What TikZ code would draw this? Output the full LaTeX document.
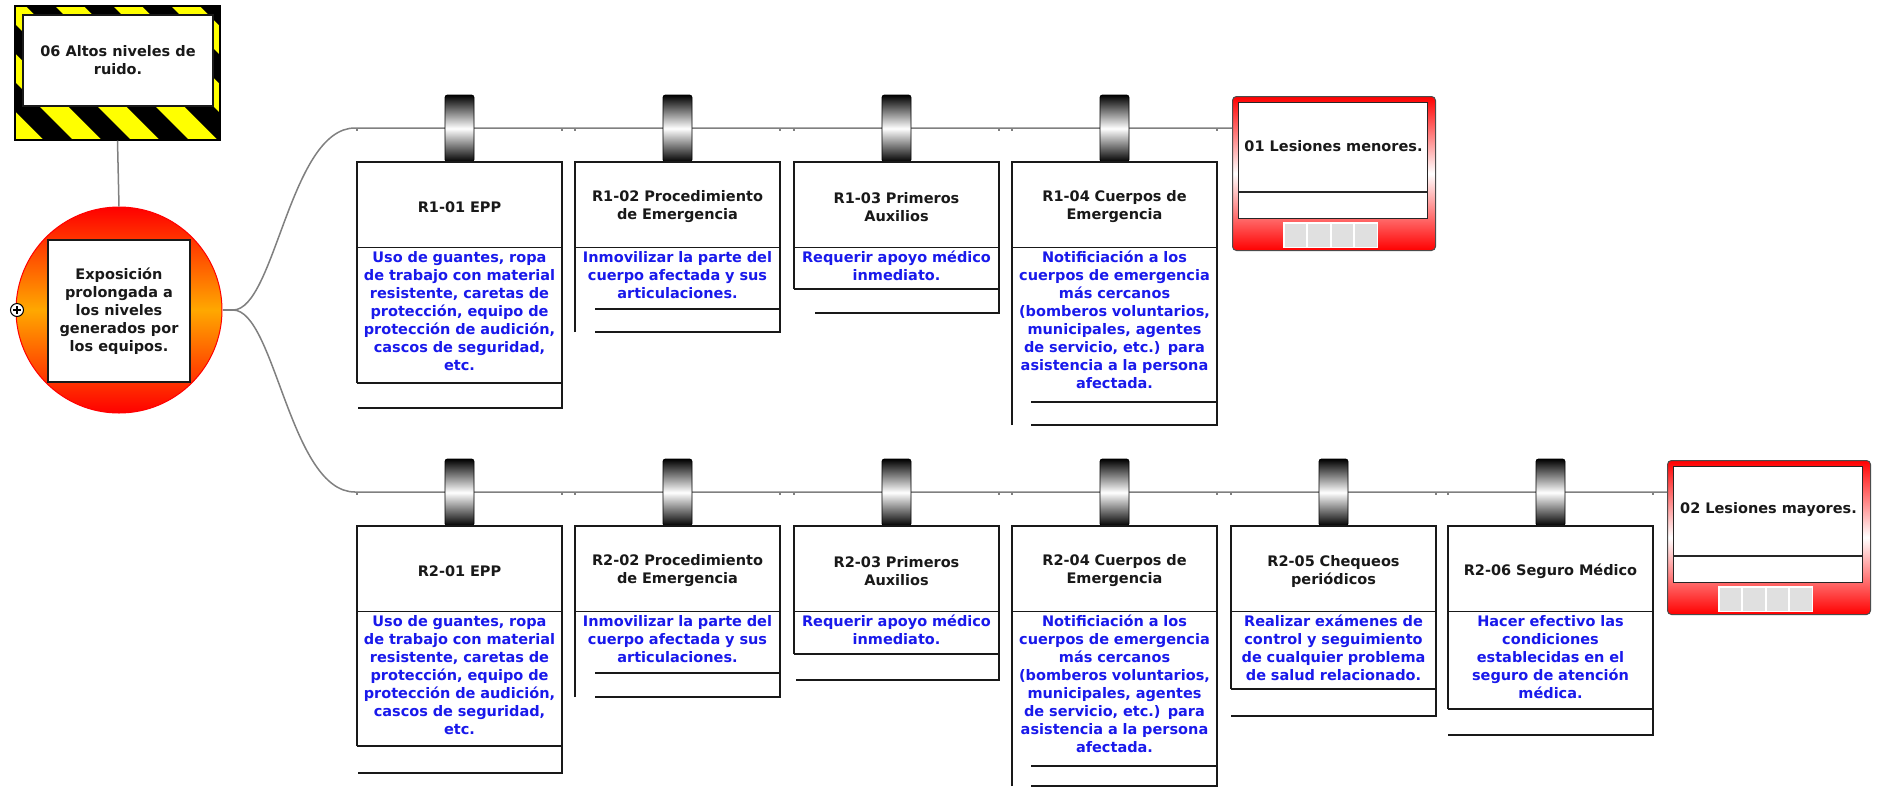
\documentclass[tikz,border=0pt]{standalone}
\usepackage{fontspec}
\setmainfont{DejaVu Sans}
\definecolor{desccol}{RGB}{25,25,235}
\definecolor{evorange}{RGB}{255,168,0}
\definecolor{hazyellow}{RGB}{255,255,0}
\definecolor{chipgray}{RGB}{224,224,224}

% barrier card: name, left x, top y, description bottom, footer bottom,
% footer line offset, left border down to footer (1/0), title, description
\newcommand\barrier[9]{%
  \pgfmathsetmacro\bR{#2+205}%
  \pgfmathsetmacro\bC{#2+102.5}%
  \pgfmathsetmacro\bD{#3+85.5}%
  \pgfmathsetmacro\bL{#3-34}%
  \pgfmathsetmacro\bF{#2+#6}%
  \ifnum#7=1 \def\bB{#5}\let\bS\bF\else\def\bB{#4}\def\bS{#2}\fi
  \draw[link] (#2,\bL) -- ++(0,3) (\bR,\bL) -- ++(0,3);
  \node[hanger] (#1-k) at (\bC,#3-33.5) {};
  \draw[frame] (#2,\bB) -- (#2,#3) -- (\bR,#3) -- (\bR,#5) -- (\bF,#5);
  \draw[frame] (#2,\bD) -- (\bR,\bD);
  \draw[frame] (\bS,#4) -- (\bR,#4);
  \node[hdrtxt] (#1-h) at (\bC,#3+45) {#8};
  \node[desctxt] (#1-d) at (\bC,\bD+1) {\rule{0pt}{14pt}#9};
}

% consequence card: name, left x, top y, text
\newcommand\consq[4]{%
  \node[cbox, anchor=north west] (#1) at (#2,#3) {};
  \node[cinner, anchor=north west] (#1-i) at (#2+6,#3+6) {};
  \draw[black!85, line width=1.3pt] (#2+6,#3+96) -- (#2+195,#3+96);
  \node[lbl, text=black!90] (#1-t) at (#2+101.5,#3+50) {#4};
  \fill[white] (#2+51,#3+126) rectangle (#2+146,#3+152);
  \foreach \k in {0,...,3}
    \fill[chipgray] (#2+52.5+\k*23.5,#3+127.5) rectangle ++(21.5,23);
}

\begin{document}
\begin{tikzpicture}[x=1pt,y=-1pt,
  frame/.style={draw=black!90, line width=1.6pt},
  link/.style={draw=black!50, line width=1.5pt},
  lbl/.style={font=\bfseries\fontsize{14.5}{18}\selectfont, align=center, inner sep=0pt},
  hdrtxt/.style={lbl, text width=200pt, text=black!90},
  desctxt/.style={lbl, text width=205pt, text=desccol, anchor=north},
  hanger/.style={draw=black, line width=0.8pt, rounded corners=2.5pt,
    minimum width=29pt, minimum height=67pt, inner sep=0pt,
    top color=black, bottom color=black, middle color=white},
  cbox/.style={draw=black!70, line width=1pt, rounded corners=4pt,
    minimum width=203pt, minimum height=154pt, inner sep=0pt,
    top color=red, bottom color=red, middle color=white},
  cinner/.style={draw=black!85, line width=1.3pt, fill=white,
    minimum width=189pt, minimum height=116pt, inner sep=0pt}
]
\useasboundingbox (0,0) rectangle (1878,788);
\fill[white] (0,0) rectangle (1878,788);

% hazard sign with striped frame
\begin{scope}
  \clip (15,6) rectangle (220,140);
  \fill[hazyellow] (15,6) rectangle (220,140);
  \foreach \i in {-4,...,5}
    \fill[black] (\i*58,-20) -- ++(29,0) -- ++(180,180) -- ++(-29,0) -- cycle;
\end{scope}
\node[draw=black, line width=1.2pt, minimum width=205pt, minimum height=134pt, inner sep=0pt] (hzf) at (117.5,73) {};
\node[lbl, draw=black!90, line width=1.2pt, fill=white, minimum width=190pt, minimum height=91pt, text=black!90] (hz) at (118,60.5) {06 Altos niveles de\\ruido.};

% top event
\node[circle, draw=red, line width=1pt, minimum size=206pt, inner sep=0pt,
  top color=red, bottom color=red, middle color=evorange] (evc) at (119,310) {};
\node[lbl, draw=black!90, line width=1.8pt, fill=white, minimum size=142pt, text=black!90] (ev) at (119,311)
  {Exposición\\prolongada a\\los niveles\\generados por\\los equipos.};
\draw[link] (hzf.south) -- (evc.north);

% expand marker
\node[circle, draw=black, fill=white, line width=1pt, minimum size=13pt, inner sep=0pt] (pl) at (17,310) {};
\draw[line width=1.2pt] (pl.center) ++(-4,0) -- ++(8,0) (pl.center) ++(0,-4) -- ++(0,8);

% consequences
\consq{c1}{1232}{96}{01 Lesiones menores.}
\consq{c2}{1667}{460}{02 Lesiones mayores.}

% pathways
\coordinate (fk) at (233,310);
\coordinate (r1s) at (355,128);
\coordinate (r2s) at (355,492);
\draw[link] (evc.east) -- (fk);
\draw[link] (fk) .. controls (275,310) and (290,128) .. (r1s) -- (r1s -| c1.west);
\draw[link] (fk) .. controls (275,310) and (290,492) .. (r2s) -- (r2s -| c2.west);

% barriers, first pathway
\barrier{b11}{357}{162}{383}{408}{1}{0}{R1-01 EPP}
  {Uso de guantes, ropa\\de trabajo con material\\resistente, caretas de\\protección, equipo de\\protección de audición,\\cascos de seguridad,\\etc.}
\barrier{b12}{575}{162}{309}{332}{20}{1}{R1-02 Procedimiento\\de Emergencia}
  {Inmovilizar la parte del\\cuerpo afectada y sus\\articulaciones.}
\barrier{b13}{794}{162}{289}{313}{21}{0}{R1-03 Primeros\\Auxilios}
  {Requerir apoyo médico\\inmediato.}
\barrier{b14}{1012}{162}{402}{425}{19}{1}{R1-04 Cuerpos de\\Emergencia}
  {Notificiación a los\\cuerpos de emergencia\\más cercanos\\(bomberos voluntarios,\\municipales, agentes\\de servicio, etc.) para\\asistencia a la persona\\afectada.}

% barriers, second pathway
\barrier{b21}{357}{526}{746}{773}{1}{0}{R2-01 EPP}
  {Uso de guantes, ropa\\de trabajo con material\\resistente, caretas de\\protección, equipo de\\protección de audición,\\cascos de seguridad,\\etc.}
\barrier{b22}{575}{526}{673}{697}{20}{1}{R2-02 Procedimiento\\de Emergencia}
  {Inmovilizar la parte del\\cuerpo afectada y sus\\articulaciones.}
\barrier{b23}{794}{526}{654}{680}{2}{0}{R2-03 Primeros\\Auxilios}
  {Requerir apoyo médico\\inmediato.}
\barrier{b24}{1012}{526}{766}{786}{19}{1}{R2-04 Cuerpos de\\Emergencia}
  {Notificiación a los\\cuerpos de emergencia\\más cercanos\\(bomberos voluntarios,\\municipales, agentes\\de servicio, etc.) para\\asistencia a la persona\\afectada.}
\barrier{b25}{1231}{526}{689}{716}{0}{0}{R2-05 Chequeos\\periódicos}
  {Realizar exámenes de\\control y seguimiento\\de cualquier problema\\de salud relacionado.}
\barrier{b26}{1448}{526}{709}{735}{0}{0}{R2-06 Seguro Médico}
  {Hacer efectivo las\\condiciones\\establecidas en el\\seguro de atención\\médica.}
\end{tikzpicture}
\end{document}
